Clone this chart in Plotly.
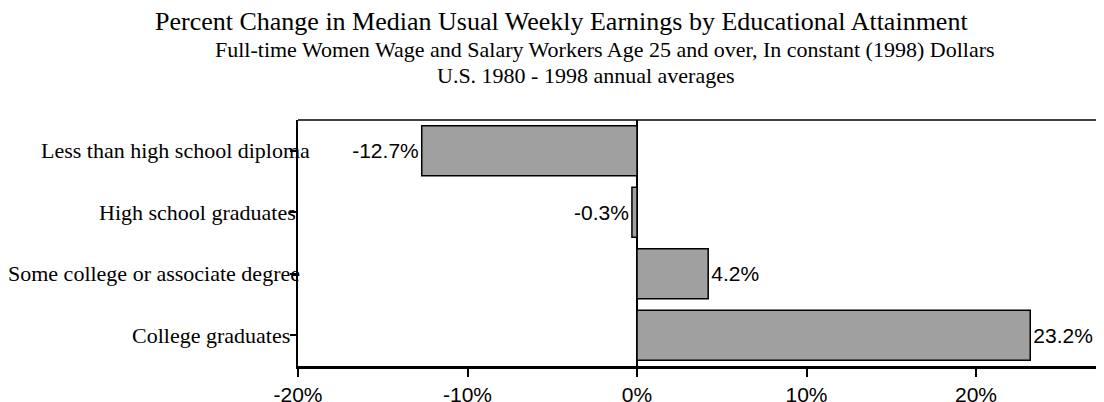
import plotly.graph_objects as go

categories = [
    "Less than high school diploma",
    "High school graduates",
    "Some college or associate degree",
    "College graduates",
]
pct_change = [-12.7, -0.3, 4.2, 23.2]
x_tick_vals = [-20, -10, 0, 10, 20]
x_tick_text = ["-20%", "-10%", "0%", "10%", "20%"]

title_lines = [
    "Percent Change in Median Usual Weekly Earnings by Educational Attainment",
    "Full-time Women Wage and Salary Workers Age 25 and over, In constant (1998) Dollars",
    "U.S. 1980 - 1998 annual averages",
]

SERIF = "Liberation Serif, Times New Roman, serif"
SANS = "Liberation Sans, Arial, sans-serif"

# the page body has an 8px margin, so the figure is sized to end at the window edge
fig = go.Figure()
fig.add_trace(go.Bar(
    y=categories,
    x=pct_change,
    orientation="h",
    marker=dict(color="#a0a0a0", line=dict(color="black", width=1.5)),
    texttemplate="%{x:.1f}%",
    textposition="outside",
    textfont=dict(family=SANS, size=21, color="black"),
    cliponaxis=False,
    hoverinfo="skip",
))

fig.update_layout(
    width=1096,
    height=394,
    margin=dict(l=290, r=0, t=112, b=36),
    paper_bgcolor="white",
    plot_bgcolor="white",
    showlegend=False,
    bargap=0.187,
    xaxis=dict(
        range=[-20, 27.55],
        tickvals=x_tick_vals,
        ticktext=x_tick_text,
        ticks="outside",
        ticklen=8,
        tickwidth=1.5,
        tickcolor="black",
        automargin=False,
        showgrid=False,
        zeroline=True,
        zerolinecolor="black",
        zerolinewidth=2,
        showline=True,
        linecolor="black",
        linewidth=3,
        tickfont=dict(family=SANS, size=21, color="black"),
        fixedrange=True,
    ),
    yaxis=dict(
        categoryorder="array",
        categoryarray=categories,
        autorange="reversed",
        showticklabels=False,
        automargin=False,
        ticks="outside",
        ticklen=6,
        tickwidth=1.5,
        tickcolor="black",
        showgrid=False,
        showline=True,
        linecolor="black",
        linewidth=2,
        fixedrange=True,
    ),
    shapes=[dict(type="line", xref="paper", yref="paper", x0=0, x1=1, y0=1, y1=1,
                 line=dict(color="black", width=1.5))],
)

label_shift = [14, 0, 4, -6]
for cat, sh in zip(categories, label_shift):
    fig.add_annotation(x=0, xref="paper", y=cat, yref="y", text=cat,
                       xanchor="right", yanchor="middle", xshift=sh, showarrow=False,
                       font=dict(family=SERIF, size=22, color="black"))

title_pos = [(0.3269, 1.4024, 26), (0.3809, 1.2886, 22), (0.3567, 1.1829, 22)]
for line, (px, py, fs) in zip(title_lines, title_pos):
    fig.add_annotation(x=px, y=py, xref="paper", yref="paper", text=line,
                       xanchor="center", yanchor="middle", showarrow=False,
                       font=dict(family=SERIF, size=fs, color="black"))

fig.write_html("out.html")
